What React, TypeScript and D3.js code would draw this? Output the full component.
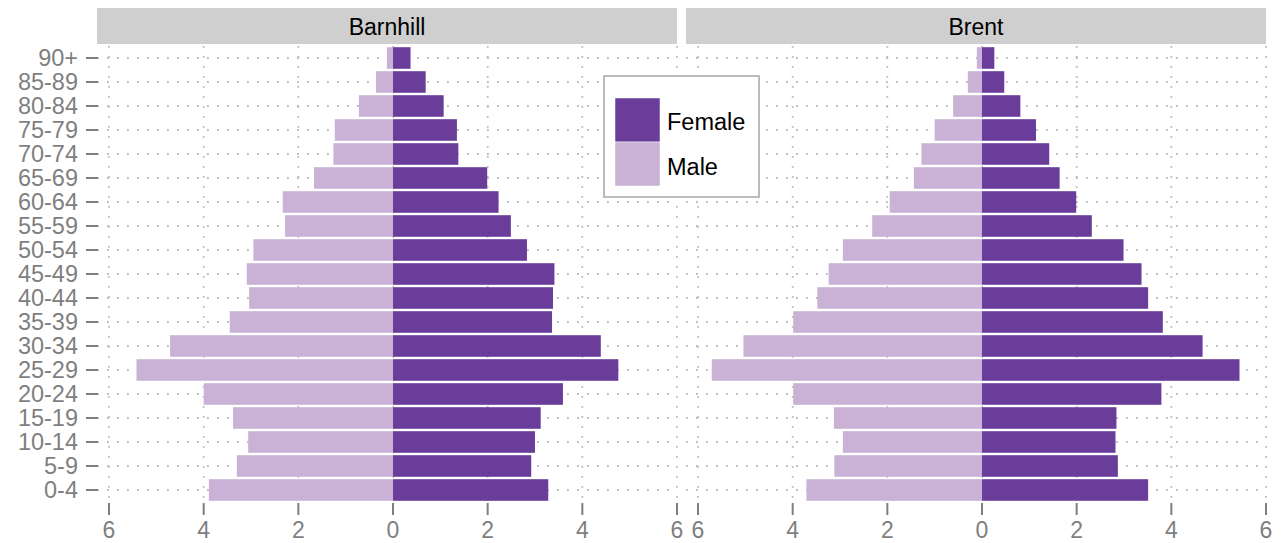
import React from "react";
import * as d3 from "d3";

// age groups, bottom to top
const ages = [
  "0-4", "5-9", "10-14", "15-19", "20-24", "25-29", "30-34", "35-39", "40-44",
  "45-49", "50-54", "55-59", "60-64", "65-69", "70-74", "75-79", "80-84", "85-89", "90+",
];

// percent of population in each age group
const barnhillMale = [3.89, 3.3, 3.06, 3.38, 4.0, 5.42, 4.71, 3.45, 3.04, 3.09, 2.95, 2.28, 2.33, 1.67, 1.26, 1.23, 0.72, 0.36, 0.13];
const barnhillFemale = [3.28, 2.92, 3.0, 3.12, 3.59, 4.76, 4.39, 3.36, 3.38, 3.41, 2.83, 2.49, 2.23, 1.99, 1.38, 1.35, 1.07, 0.69, 0.37];
const brentMale = [3.71, 3.12, 2.94, 3.13, 3.99, 5.71, 5.04, 3.99, 3.48, 3.24, 2.94, 2.32, 1.95, 1.44, 1.28, 1.0, 0.61, 0.3, 0.11];
const brentFemale = [3.51, 2.87, 2.82, 2.84, 3.79, 5.44, 4.66, 3.82, 3.51, 3.37, 2.99, 2.32, 1.99, 1.64, 1.42, 1.14, 0.81, 0.47, 0.26];

const areas = ["Barnhill", "Brent"];
const xTicks = [-6, -4, -2, 0, 2, 4, 6];
const sexes = ["Female", "Male"];
const colors: Record<string, string> = { Female: "#6a3d9a", Male: "#cab2d6" };

const W = 1282;
const H = 543;
const panelTop = 46;
const panelBottom = 502;
const stripTop = 8;
const stripBottom = 44;
const panels = [
  { x0: 97, x1: 677 },
  { x0: 686, x1: 1266 },
];
const font = "'Liberation Sans', Arial, sans-serif";
const grey = "#7f7f7f";

export default function App() {
  const y = d3.scaleBand<string>().domain(ages.slice().reverse()).range([panelTop, panelBottom]);
  const bh = y.bandwidth() * 0.9;
  const series = [
    { male: barnhillMale, female: barnhillFemale },
    { male: brentMale, female: brentFemale },
  ];

  return (
    <svg width={W} height={H} style={{ position: "absolute", left: 0, top: 0 }} fontFamily={font}>
      <rect width={W} height={H} fill="#fff" />
      {areas.map((area, i) => {
        const p = panels[i];
        const x = d3.scaleLinear().domain([-6.254, 6]).range([p.x0, p.x1]);
        const s = series[i];
        return (
          <g key={area}>
            <rect x={p.x0} y={stripTop} width={p.x1 - p.x0} height={stripBottom - stripTop} fill="#cfcfcf" />
            <text x={(p.x0 + p.x1) / 2} y={35} textAnchor="middle" fontSize={23} fill="#000">
              {area}
            </text>
            {/* grid */}
            {ages.map((a) => (
              <line
                key={"h" + a}
                x1={p.x0}
                x2={p.x1}
                y1={y(a)! + y.bandwidth() / 2}
                y2={y(a)! + y.bandwidth() / 2}
                stroke="#bababa"
                strokeWidth={1.8}
                strokeDasharray="1.8,8.2"
              />
            ))}
            {xTicks.map((t) => (
              <line
                key={"v" + t}
                x1={x(t)}
                x2={x(t)}
                y1={panelTop}
                y2={panelBottom}
                stroke="#bababa"
                strokeWidth={1.8}
                strokeDasharray="1.8,8.2"
              />
            ))}
            {/* bars */}
            {ages.map((a, j) => (
              <g key={"b" + a}>
                <rect
                  x={x(-s.male[j])}
                  y={y(a)! + (y.bandwidth() - bh) / 2}
                  width={x(0) - x(-s.male[j])}
                  height={bh}
                  fill={colors.Male}
                />
                <rect
                  x={x(0)}
                  y={y(a)! + (y.bandwidth() - bh) / 2}
                  width={x(s.female[j]) - x(0)}
                  height={bh}
                  fill={colors.Female}
                />
              </g>
            ))}
            {/* x axis */}
            {xTicks.map((t) => (
              <g key={"t" + t}>
                <line x1={x(t)} x2={x(t)} y1={503} y2={515} stroke={grey} strokeWidth={2} />
                <text x={x(t)} y={538} textAnchor="middle" fontSize={23} fill={grey}>
                  {Math.abs(t)}
                </text>
              </g>
            ))}
          </g>
        );
      })}
      {/* y axis */}
      {ages.map((a) => (
        <g key={"y" + a}>
          <line x1={86} x2={98} y1={y(a)! + y.bandwidth() / 2} y2={y(a)! + y.bandwidth() / 2} stroke={grey} strokeWidth={2} />
          <text x={78} y={y(a)! + y.bandwidth() / 2 + 8} textAnchor="end" fontSize={23.5} fill={grey}>
            {a}
          </text>
        </g>
      ))}
      {/* legend */}
      <g>
        <rect x={604} y={76} width={155} height={121} fill="#fff" stroke="#bbbbbb" strokeWidth={2} />
        {sexes.map((sx, k) => (
          <g key={sx}>
            <rect x={615} y={98 + k * 44} width={45} height={44} fill={colors[sx]} stroke="#fff" strokeWidth={0.5} />
            <text x={667} y={130 + k * 45} fontSize={23.5} fill="#000">
              {sx}
            </text>
          </g>
        ))}
      </g>
    </svg>
  );
}
